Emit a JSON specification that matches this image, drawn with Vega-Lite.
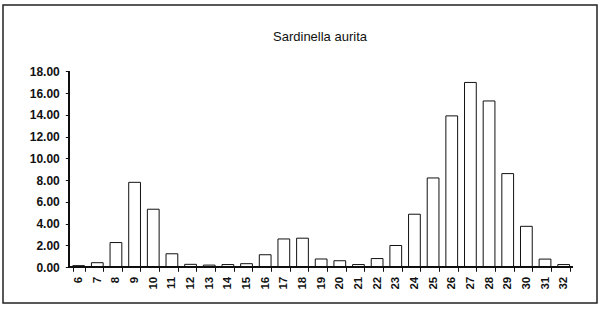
{
  "$schema": "https://vega.github.io/schema/vega-lite/v6.json",
  "autosize": "none",
  "width": 594,
  "height": 298,
  "padding": {"left": 3, "top": 5, "right": 3, "bottom": 6},
  "background": "white",
  "config": {
    "view": {"stroke": "#222", "strokeWidth": 1.5},
    "font": "Liberation Sans"
  },
  "title": {
    "text": "Sardinella aurita",
    "font": "Liberation Sans",
    "fontSize": 13,
    "fontWeight": "normal",
    "color": "#111",
    "anchor": "middle",
    "frame": "group",
    "offset": -39,
    "dx": 20
  },
  "data": {
    "values": [
      {"length": 6, "pct": 0.15},
      {"length": 7, "pct": 0.42},
      {"length": 8, "pct": 2.27},
      {"length": 9, "pct": 7.8},
      {"length": 10, "pct": 5.33},
      {"length": 11, "pct": 1.24},
      {"length": 12, "pct": 0.27},
      {"length": 13, "pct": 0.2},
      {"length": 14, "pct": 0.25},
      {"length": 15, "pct": 0.33},
      {"length": 16, "pct": 1.15},
      {"length": 17, "pct": 2.6},
      {"length": 18, "pct": 2.67},
      {"length": 19, "pct": 0.76},
      {"length": 20, "pct": 0.6},
      {"length": 21, "pct": 0.25},
      {"length": 22, "pct": 0.8},
      {"length": 23, "pct": 2.0},
      {"length": 24, "pct": 4.87},
      {"length": 25, "pct": 8.2},
      {"length": 26, "pct": 13.9},
      {"length": 27, "pct": 16.97},
      {"length": 28, "pct": 15.27},
      {"length": 29, "pct": 8.6},
      {"length": 30, "pct": 3.76},
      {"length": 31, "pct": 0.75},
      {"length": 32, "pct": 0.25}
    ]
  },
  "encoding": {
    "x": {
      "field": "length",
      "type": "ordinal",
      "scale": {"range": [66.3, 570], "paddingInner": 0.37, "paddingOuter": 0.185},
      "axis": {
        "title": null,
        "domain": false,
        "offset": -35.7,
        "tickBand": "extent",
        "tickSize": 4,
        "tickColor": "#111",
        "labelAngle": 270,
        "labelOverlap": false,
        "labelFont": "Liberation Sans",
        "labelFontSize": 11.5,
        "labelFontWeight": "bold",
        "labelColor": "#111",
        "labelPadding": 5
      }
    }
  },
  "layer": [
    {
      "mark": {"type": "bar", "fill": "white", "stroke": "#111", "strokeWidth": 1},
      "encoding": {
        "y": {
          "field": "pct",
          "type": "quantitative",
          "scale": {"domain": [-3.28, 24.08], "nice": false, "zero": false},
          "axis": {
            "title": null,
            "domain": false,
            "grid": false,
            "offset": -66.3,
            "values": [0, 2, 4, 6, 8, 10, 12, 14, 16, 18],
            "tickCount": 30,
            "format": ".2f",
            "labelOverlap": false,
            "tickSize": 4,
            "tickColor": "#111",
            "labelFont": "Liberation Sans",
            "labelFontSize": 12,
            "labelFontWeight": "bold",
            "labelColor": "#111",
            "labelPadding": 6
          }
        },
        "y2": {"datum": 0}
      }
    },
    {
      "mark": {"type": "rule", "stroke": "#111", "strokeWidth": 1},
      "encoding": {
        "x": {"datum": 6, "type": "ordinal", "bandPosition": -0.2937},
        "x2": {"datum": 32, "bandPosition": 1.2937},
        "y": {"datum": 0, "type": "quantitative"}
      }
    },
    {
      "mark": {"type": "rule", "stroke": "#111", "strokeWidth": 1},
      "encoding": {
        "x": {"datum": 6, "type": "ordinal", "bandPosition": -0.2937},
        "y": {"datum": 0, "type": "quantitative"},
        "y2": {"datum": 18}
      }
    }
  ]
}
